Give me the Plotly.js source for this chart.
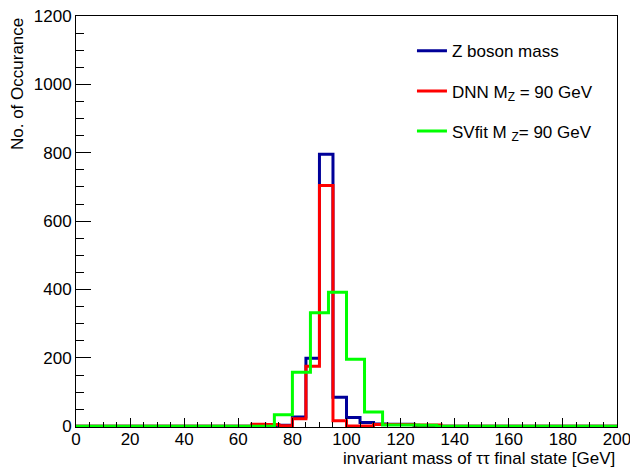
<!DOCTYPE html>
<html>
<head>
<meta charset="utf-8">
<script src="https://cdn.plot.ly/plotly-3.0.1.min.js"></script>
<style>
  html, body { margin: 0; padding: 0; background: #fff; }
  #chart { width: 630px; height: 467px; }
</style>
</head>
<body>
<div id="chart"></div>
<script>
// Histogram range (GeV)
const xMin = 0;
const xMax = 200;

// Z boson mass (40 bins of 5 GeV)
const zBosonCounts = [
  0, 0, 0, 0, 0, 0, 0, 0, 0, 0,
  0, 0, 0, 2, 2, 3, 27, 199, 796, 85,
  26, 11, 7, 6, 6, 1, 0, 0, 0, 0,
  0, 0, 0, 0, 0, 0, 0, 0, 0, 0
];

// DNN M_Z = 90 GeV (40 bins of 5 GeV)
const dnnCounts = [
  0, 0, 0, 0, 0, 0, 0, 0, 0, 0,
  0, 0, 0, 6, 5, 2, 22, 176, 704, 16,
  1, 1, 5, 5, 5, 4, 4, 0, 0, 0,
  0, 0, 0, 0, 0, 0, 0, 0, 0, 0
];

// SVfit M_Z = 90 GeV (30 bins of 6.67 GeV)
const svfitCounts = [
  0, 0, 0, 0, 0, 0, 0, 0, 0, 0,
  0, 34, 158, 332, 392, 196, 42, 4, 4, 3,
  0, 0, 0, 0, 0, 0, 0, 0, 0, 0
];

const seriesNames = [
  "Z boson mass",
  "DNN M<sub>Z</sub> = 90 GeV",
  "SVfit M <sub>Z</sub>= 90 GeV"
];
const seriesColors = ["#000099", "#ff0000", "#00ff00"];

const xTitle = "invariant mass of \u03C4\u03C4 final state [GeV]";
const yTitle = "No. of Occurance";

function stepTrace(counts, name, color, group) {
  const n = counts.length;
  const w = (xMax - xMin) / n;
  const xs = [], ys = [];
  for (let i = 0; i < n; i++) { xs.push(xMin + i * w); ys.push(counts[i]); }
  xs.push(xMax); ys.push(counts[n - 1]);
  return {
    type: "scatter", mode: "lines", x: xs, y: ys, name: name,
    line: { shape: "hv", color: color, width: 3 },
    legendgroup: group, hoverinfo: "skip"
  };
}

const font = "'Liberation Sans', Arial, Helvetica, sans-serif";

const data = [
  stepTrace(zBosonCounts, seriesNames[0], seriesColors[0], "a"),
  stepTrace(dnnCounts, seriesNames[1], seriesColors[1], "b"),
  stepTrace(svfitCounts, seriesNames[2], seriesColors[2], "c")
];

const layout = {
  width: 630, height: 467,
  margin: { l: 76, r: 13, t: 16, b: 40, pad: 0 },
  paper_bgcolor: "#ffffff", plot_bgcolor: "#ffffff",
  font: { family: font, size: 17, color: "#000" },
  showlegend: true,
  legend: {
    x: 0.621, y: 0.958, xanchor: "left", yanchor: "top",
    bgcolor: "rgba(255,255,255,0)", borderwidth: 0,
    font: { family: font, size: 17, color: "#000" },
    tracegroupgap: 15, traceorder: "grouped"
  },
  xaxis: {
    range: [xMin, xMax], dtick: 20, tick0: 0,
    ticks: "inside", ticklen: 9, tickwidth: 1, tickcolor: "#000",
    minor: { dtick: 5, ticks: "inside", ticklen: 5, tickwidth: 1, tickcolor: "#000" },
    showline: true, linecolor: "#000", linewidth: 1, mirror: true,
    showgrid: false, zeroline: false,
    ticklabeloverflow: "allow", ticklabelstandoff: -3,
    tickfont: { family: font, size: 17, color: "#000" }
  },
  yaxis: {
    range: [-2, 1200], dtick: 200, tick0: 0,
    ticks: "inside", ticklen: 15, tickwidth: 1, tickcolor: "#000",
    minor: { dtick: 50, ticks: "inside", ticklen: 8, tickwidth: 1, tickcolor: "#000" },
    showline: true, linecolor: "#000", linewidth: 1, mirror: true,
    showgrid: false, zeroline: false,
    ticklabeloverflow: "allow",
    tickfont: { family: font, size: 17, color: "#000" }
  },
  annotations: [
    {
      text: xTitle, xref: "paper", yref: "paper",
      x: 1, y: -0.077, xanchor: "right", yanchor: "middle",
      showarrow: false, font: { family: font, size: 17, color: "#000" }
    },
    {
      text: yTitle, xref: "paper", yref: "paper",
      x: -0.109, y: 1, xanchor: "center", yanchor: "top",
      textangle: -90,
      showarrow: false, font: { family: font, size: 17, color: "#000" }
    }
  ]
};

Plotly.newPlot("chart", data, layout, { displayModeBar: false, staticPlot: true });
</script>
</body>
</html>
